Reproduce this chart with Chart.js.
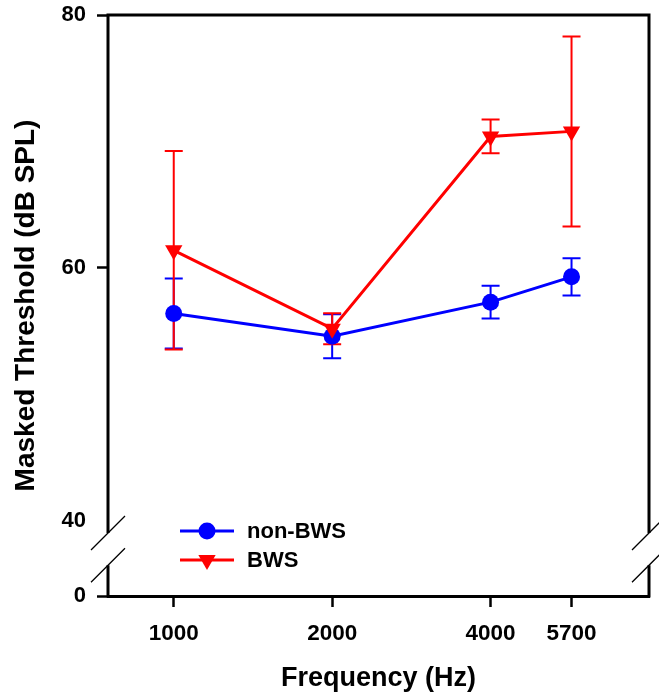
<!DOCTYPE html>
<html><head><meta charset="utf-8">
<script src="https://cdn.jsdelivr.net/npm/chart.js@4.4.0/dist/chart.umd.min.js"></script>
<style>html,body{margin:0;padding:0;background:#fff}#wrap{width:659px;height:697px;position:relative}canvas{display:block}</style>
</head><body><div id="wrap"><canvas id="c" width="659" height="697"></canvas></div>
<script>
// ---- data ----
const frequencies = [1000, 2000, 4000, 5700];
const nonBWS = [56.4, 54.6, 57.3, 59.3];
const nonBWSErr = [2.77, 1.74, 1.30, 1.48];
const BWS = [61.4, 55.2, 70.4, 70.8];
const BWSErr = [7.85, 1.23, 1.33, 7.51];
const yTickValues = [40, 60, 80];
const yBreakLabel = '0';
const seriesNames = ['non-BWS', 'BWS'];

// ---- axis config ----
const Y_AXIS_BOTTOM = 34.07;   // value at the bottom of the broken axis (shown as "0")
const BREAK_UPPER = 39.05;     // where the upper segment of the axis stops
const BREAK_LOWER = 36.5;      // where the lower segment of the axis starts
const FONT = '"Liberation Sans", Arial, Helvetica, sans-serif';
const BLUE = '#0000FF', RED = '#FF0000';

const errorBars = {
  id: 'errorBars',
  beforeDatasetsDraw(chart) {
    const {ctx, scales: {x, y}} = chart;
    const sets = [[nonBWS, nonBWSErr, BLUE], [BWS, BWSErr, RED]];
    ctx.save();
    ctx.lineWidth = 2;
    sets.forEach(([vals, errs, col]) => {
      ctx.strokeStyle = col;
      vals.forEach((v, i) => {
        const px = x.getPixelForValue(frequencies[i]);
        const top = y.getPixelForValue(v + errs[i]);
        const bot = y.getPixelForValue(v - errs[i]);
        ctx.beginPath();
        ctx.moveTo(px, top); ctx.lineTo(px, bot);
        ctx.moveTo(px - 9, top); ctx.lineTo(px + 9, top);
        ctx.moveTo(px - 9, bot); ctx.lineTo(px + 9, bot);
        ctx.stroke();
      });
    });
    ctx.restore();
  }
};

const frame = {
  id: 'frame',
  afterDraw(chart) {
    const {ctx, chartArea: a, scales: {y}} = chart;
    const yb1 = y.getPixelForValue(BREAK_UPPER);
    const yb2 = y.getPixelForValue(BREAK_LOWER);
    ctx.save();
    ctx.strokeStyle = '#000';
    ctx.lineWidth = 3;
    ctx.lineCap = 'butt';
    ctx.beginPath();
    ctx.moveTo(a.left, a.top); ctx.lineTo(a.right, a.top);
    [a.left, a.right].forEach(xx => {
      ctx.moveTo(xx, a.top - 1.5); ctx.lineTo(xx, yb1);
      ctx.moveTo(xx, yb2); ctx.lineTo(xx, a.bottom + 1.5);
    });
    ctx.stroke();
    ctx.lineWidth = 1.3;
    ctx.beginPath();
    [a.left, a.right].forEach(xx => {
      [yb1, yb2].forEach(yy => {
        ctx.moveTo(xx - 17, yy + 17); ctx.lineTo(xx + 17, yy - 17);
      });
    });
    ctx.stroke();
    ctx.restore();
  }
};

const legendBox = {
  id: 'legendBox',
  afterDatasetsDraw(chart) {
    const {ctx} = chart;
    const rows = [531, 560];
    ctx.save();
    chart.data.datasets.slice().sort((p, q) => p.legendRow - q.legendRow).forEach((ds) => {
      const yy = rows[ds.legendRow];
      ctx.strokeStyle = ds.borderColor;
      ctx.fillStyle = ds.backgroundColor;
      ctx.lineWidth = 3;
      ctx.beginPath(); ctx.moveTo(180, yy); ctx.lineTo(234, yy); ctx.stroke();
      Chart.helpers.drawPoint(ctx, {pointStyle: ds.pointStyle, rotation: ds.pointRotation || 0,
        radius: ds.pointRadius, borderWidth: 0}, 207, yy);
      ctx.fillStyle = '#000';
      ctx.font = 'bold 22px ' + FONT;
      ctx.textBaseline = 'middle';
      ctx.textAlign = 'left';
      ctx.fillText(ds.label, 247, yy + 1);
    });
    ctx.restore();
  }
};

new Chart(document.getElementById('c'), {
  type: 'line',
  data: {
    datasets: [
      {label: seriesNames[1], data: frequencies.map((f, i) => ({x: f, y: BWS[i]})),
       borderColor: RED, backgroundColor: RED, borderWidth: 3, pointStyle: 'triangle', pointRotation: 180,
       pointRadius: 10, pointBorderWidth: 0, order: 0, legendRow: 1},
      {label: seriesNames[0], data: frequencies.map((f, i) => ({x: f, y: nonBWS[i]})),
       borderColor: BLUE, backgroundColor: BLUE, borderWidth: 3, pointStyle: 'circle',
       pointRadius: 8.5, pointBorderWidth: 0, order: 1, legendRow: 0}
    ]
  },
  options: {
    responsive: false,
    animation: false,
    devicePixelRatio: 1,
    layout: {padding: {top: 15, right: 8, left: 0, bottom: 0}},
    plugins: {legend: {display: false}, tooltip: {enabled: false}},
    scales: {
      x: {
        type: 'logarithmic', min: 750, max: 8000, position: 'bottom',
        afterBuildTicks: s => { s.ticks = frequencies.map(v => ({value: v})); },
        afterFit: s => { s.height = 101; s.paddingLeft = 0; s.paddingRight = 0; },
        ticks: {callback: v => String(v), color: '#000', font: {family: FONT, size: 22.5, weight: 'bold'},
                padding: 13, maxRotation: 0, autoSkip: false},
        grid: {drawOnChartArea: false, drawTicks: true, tickLength: 11, tickWidth: 2.5, tickColor: '#000'},
        border: {display: true, color: '#000', width: 3},
        title: {display: true, text: 'Frequency (Hz)', color: '#000',
                font: {family: FONT, size: 27, weight: 'bold'}, padding: {top: 0, bottom: 2}}
      },
      y: {
        type: 'linear', min: Y_AXIS_BOTTOM, max: 80,
        afterBuildTicks: s => { s.ticks = [{value: Y_AXIS_BOTTOM}].concat(yTickValues.map(v => ({value: v}))); },
        afterFit: s => { s.width = 108; s.paddingTop = 0; s.paddingBottom = 0; },
        ticks: {callback: v => (v === Y_AXIS_BOTTOM ? yBreakLabel : String(v)), color: '#000',
                font: {family: FONT, size: 22, weight: 'bold'}, padding: 11, autoSkip: false},
        grid: {drawOnChartArea: false, drawTicks: true, tickLength: 11, tickWidth: 2.5,
               tickColor: c => (c.tick && c.tick.value === 40 ? 'rgba(0,0,0,0)' : '#000')},
        border: {display: false},
        title: {display: true, text: 'Masked Threshold (dB SPL)', color: '#000',
                font: {family: FONT, size: 28, weight: 'bold'}, padding: {top: 9, bottom: 0}}
      }
    }
  },
  plugins: [errorBars, frame, legendBox]
});
</script></body></html>
